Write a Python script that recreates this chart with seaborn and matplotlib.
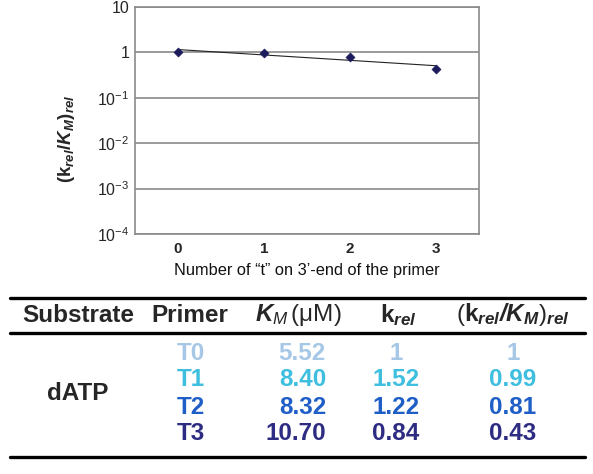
import numpy as np
import pandas as pd
import matplotlib
matplotlib.use('Agg')
import matplotlib.pyplot as plt
import seaborn as sns

# Data
primers = ['T0', 'T1', 'T2', 'T3']
n_t = [0, 1, 2, 3]
km_values = ['5.52', '8.40', '8.32', '10.70']
krel_values = ['1', '1.52', '1.22', '0.84']
ratio_labels = ['1', '0.99', '0.81', '0.43']
ratio_values = [1.0, 0.99, 0.81, 0.43]
row_colors = ['#a7c7e7', '#3fbfdf', '#1f5ec6', '#2d2c82']
y_ticks = [1e-4, 1e-3, 1e-2, 1e-1, 1, 10]
y_tick_labels = [r'$10^{-4}$', r'$10^{-3}$', r'$10^{-2}$', r'$10^{-1}$', '1', '10']

sns.set_style('white')
plt.rcParams['font.family'] = ['Liberation Sans', 'DejaVu Sans']
plt.rcParams['axes.unicode_minus'] = False
plt.rcParams['mathtext.fontset'] = 'custom'
plt.rcParams['mathtext.rm'] = 'Liberation Sans'
plt.rcParams['mathtext.it'] = 'Liberation Sans:italic'
plt.rcParams['mathtext.bf'] = 'Liberation Sans:bold'
plt.rcParams['mathtext.bfit'] = 'Liberation Sans:bold:italic'

df = pd.DataFrame({'n': n_t, 'ratio': ratio_values})

# exponential trend line (as in the spreadsheet chart)
slope, intercept = np.polyfit(df['n'], np.log10(df['ratio']), 1)
trend = pd.DataFrame({'n': [n_t[0], n_t[-1]]})
trend['ratio'] = 10 ** (intercept + slope * trend['n'])

W, H = 593, 474
fig = plt.figure(figsize=(W / 100, H / 100), dpi=100)
ax = fig.add_axes([135 / W, 1 - 234 / H, 344 / W, 227 / H])

grey = '#8a8a8a'
sns.lineplot(data=trend, x='n', y='ratio', ax=ax, color='#222222', linewidth=0.8)
sns.scatterplot(data=df, x='n', y='ratio', ax=ax, color='#1b1b5c', marker='D',
                s=22, edgecolor='#1b1b5c', zorder=3)

ax.set_yscale('log')
ax.set_ylim(1e-4, 10)
ax.set_xlim(-0.5, 3.5)
ax.set_yticks(y_ticks)
ax.set_yticklabels(y_tick_labels)
ax.minorticks_off()
ax.set_xticks(n_t)
ax.set_xticklabels([str(v) for v in n_t])
ax.tick_params(axis='y', length=0, pad=4, labelsize=11.5)
ax.tick_params(axis='x', direction='in', length=3, color=grey, pad=6, labelsize=11)
for t in ax.get_xticklabels():
    t.set_fontweight('bold')
ax.grid(axis='y', color=grey, linewidth=1.2)
ax.set_axisbelow(True)
for sp in ax.spines.values():
    sp.set_color(grey)
    sp.set_linewidth(1.2)

ax.set_xlabel('Number of \u201ct\u201d on 3\u2019-end of the primer', fontsize=11.8,
              labelpad=5, color='#111111')
ax.set_ylabel(r'$\mathbf{(k}_{\mathbfit{rel}}\mathbf{/}\mathbfit{K}_{\mathbfit{M}}\mathbf{)}_{\mathbfit{rel}}$',
              fontsize=13.5)
ax.yaxis.set_label_coords(-0.17, 0.42)

# ---- table below the chart ----
def fx(px):
    return px / W

def fy(py):
    return 1 - py / H

for ly, lw in [(298, 2.4), (333, 2.4), (457, 2.4)]:
    fig.add_artist(plt.Line2D([fx(10), fx(585)], [fy(ly), fy(ly)], color='black',
                              linewidth=lw, transform=fig.transFigure))

fs = 17.5
hy = fy(315)
fig.text(fx(78), hy, 'Substrate', ha='center', va='center', fontsize=fs, fontweight='bold')
fig.text(fx(190), hy, 'Primer', ha='center', va='center', fontsize=fs, fontweight='bold')
fig.text(fx(298), hy, r'$\mathbfit{K}_{\mathit{M}}\,\mathrm{(\mu M)}$', ha='center', va='center', fontsize=fs)
fig.text(fx(398), hy, r'$\mathbf{k}_{\mathbfit{rel}}$', ha='center', va='center', fontsize=fs)
fig.text(fx(513), hy, r'$\mathrm{(}\mathbf{k}_{\mathbfit{rel}}\mathbfit{/K}_{\mathbfit{M}}\mathrm{)}_{\mathbfit{rel}}$',
         ha='center', va='center', fontsize=fs)

fig.text(fx(78), fy(393), 'dATP', ha='center', va='center', fontsize=fs, fontweight='bold')

row_y = [353, 379, 407, 433]
for i in range(len(primers)):
    y = fy(row_y[i])
    c = row_colors[i]
    fig.text(fx(191), y, primers[i], ha='center', va='center', fontsize=fs, fontweight='bold', color=c)
    fig.text(fx(326), y, km_values[i], ha='right', va='center', fontsize=fs, fontweight='bold', color=c)
    fig.text(fx(396), y, krel_values[i], ha='center', va='center', fontsize=fs, fontweight='bold', color=c)
    fig.text(fx(513), y, ratio_labels[i], ha='center', va='center', fontsize=fs, fontweight='bold', color=c)

fig.savefig('out.png', dpi=100)
